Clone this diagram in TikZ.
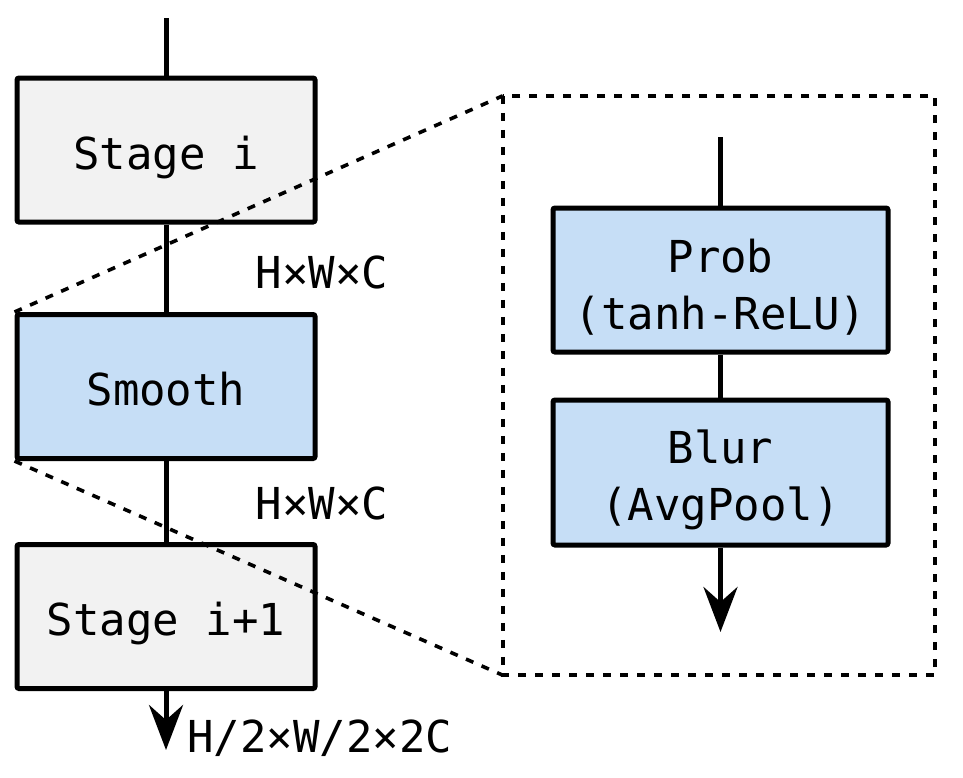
\documentclass[tikz,border=0pt]{standalone}
\usepackage{fontspec}
\setmonofont{DejaVu Sans Mono}
\usetikzlibrary{arrows.meta}
\definecolor{graybox}{HTML}{F2F2F2}
\definecolor{bluebox}{HTML}{C6DEF6}
\newcommand\boxtxt[2][19pt]{\raisebox{-#1}[0pt][0pt]{\begin{tabular}[b]{@{}c@{}}#2\end{tabular}}}
\begin{document}
\begin{tikzpicture}[x=1pt,y=-1pt,
  font=\fontsize{44}{57}\selectfont\ttfamily,
  blk/.style={draw=black, line width=5pt, rounded corners=2pt, minimum width=298pt, minimum height=144pt, inner sep=0pt},
  graystage/.style={blk, fill=graybox},
  bluestage/.style={blk, fill=bluebox},
  conn/.style={line width=5pt},
  arr/.style={line width=5pt, -{Stealth[length=45pt, width=34pt, inset=15pt]}},
  dotline/.style={line width=3.6pt, dash pattern=on 8pt off 9pt},
  lbl/.style={inner sep=0pt}]
\useasboundingbox (0,0) rectangle (963,777);

\coordinate (top) at (166,18);
\coordinate (bottom) at (166,750);
\coordinate (itop) at (720.5,137);
\coordinate (ibottom) at (720.5,632);

\node[graystage] (stage1) at (166,150) {\boxtxt{Stage i}};
\node[bluestage] (smooth) at (166,386.5) {\boxtxt{Smooth}};
\node[graystage] (stage2) at (166,616.5) {\boxtxt{Stage i+1}};

\node[draw=none, minimum width=432pt, minimum height=579pt, inner sep=0pt] (zoombox) at (719,385.5) {};
\draw[dotline] (zoombox.north west) rectangle (zoombox.south east);

\node[bluestage, minimum width=335pt, minimum height=144pt] (prob) at (720.5,280) {\boxtxt[49pt]{Prob\\(tanh-ReLU)}};
\node[bluestage, minimum width=335pt, minimum height=145pt] (blur) at (720.5,472.5) {\boxtxt[48pt]{Blur\\(AvgPool)}};

\draw[conn] (top) -- (stage1.north);
\draw[conn] (stage1.south) -- (smooth.north);
\draw[conn] (smooth.south) -- (stage2.north);
\draw[arr] (stage2.south) -- (bottom);

\draw[conn] (itop) -- (prob.north);
\draw[conn] (prob.south) -- (blur.north);
\draw[arr] (blur.south) -- (ibottom);

\draw[dotline] (smooth.north west) -- (zoombox.north west);
\draw[dotline] (smooth.south west) -- (zoombox.south west);

\node[lbl] (d1) at (322,272) {H×W×C};
\node[lbl] (d2) at (322,503) {H×W×C};
\node[lbl, anchor=west] (d3) at (187,738) {H/2×W/2×2C};
\end{tikzpicture}
\end{document}
